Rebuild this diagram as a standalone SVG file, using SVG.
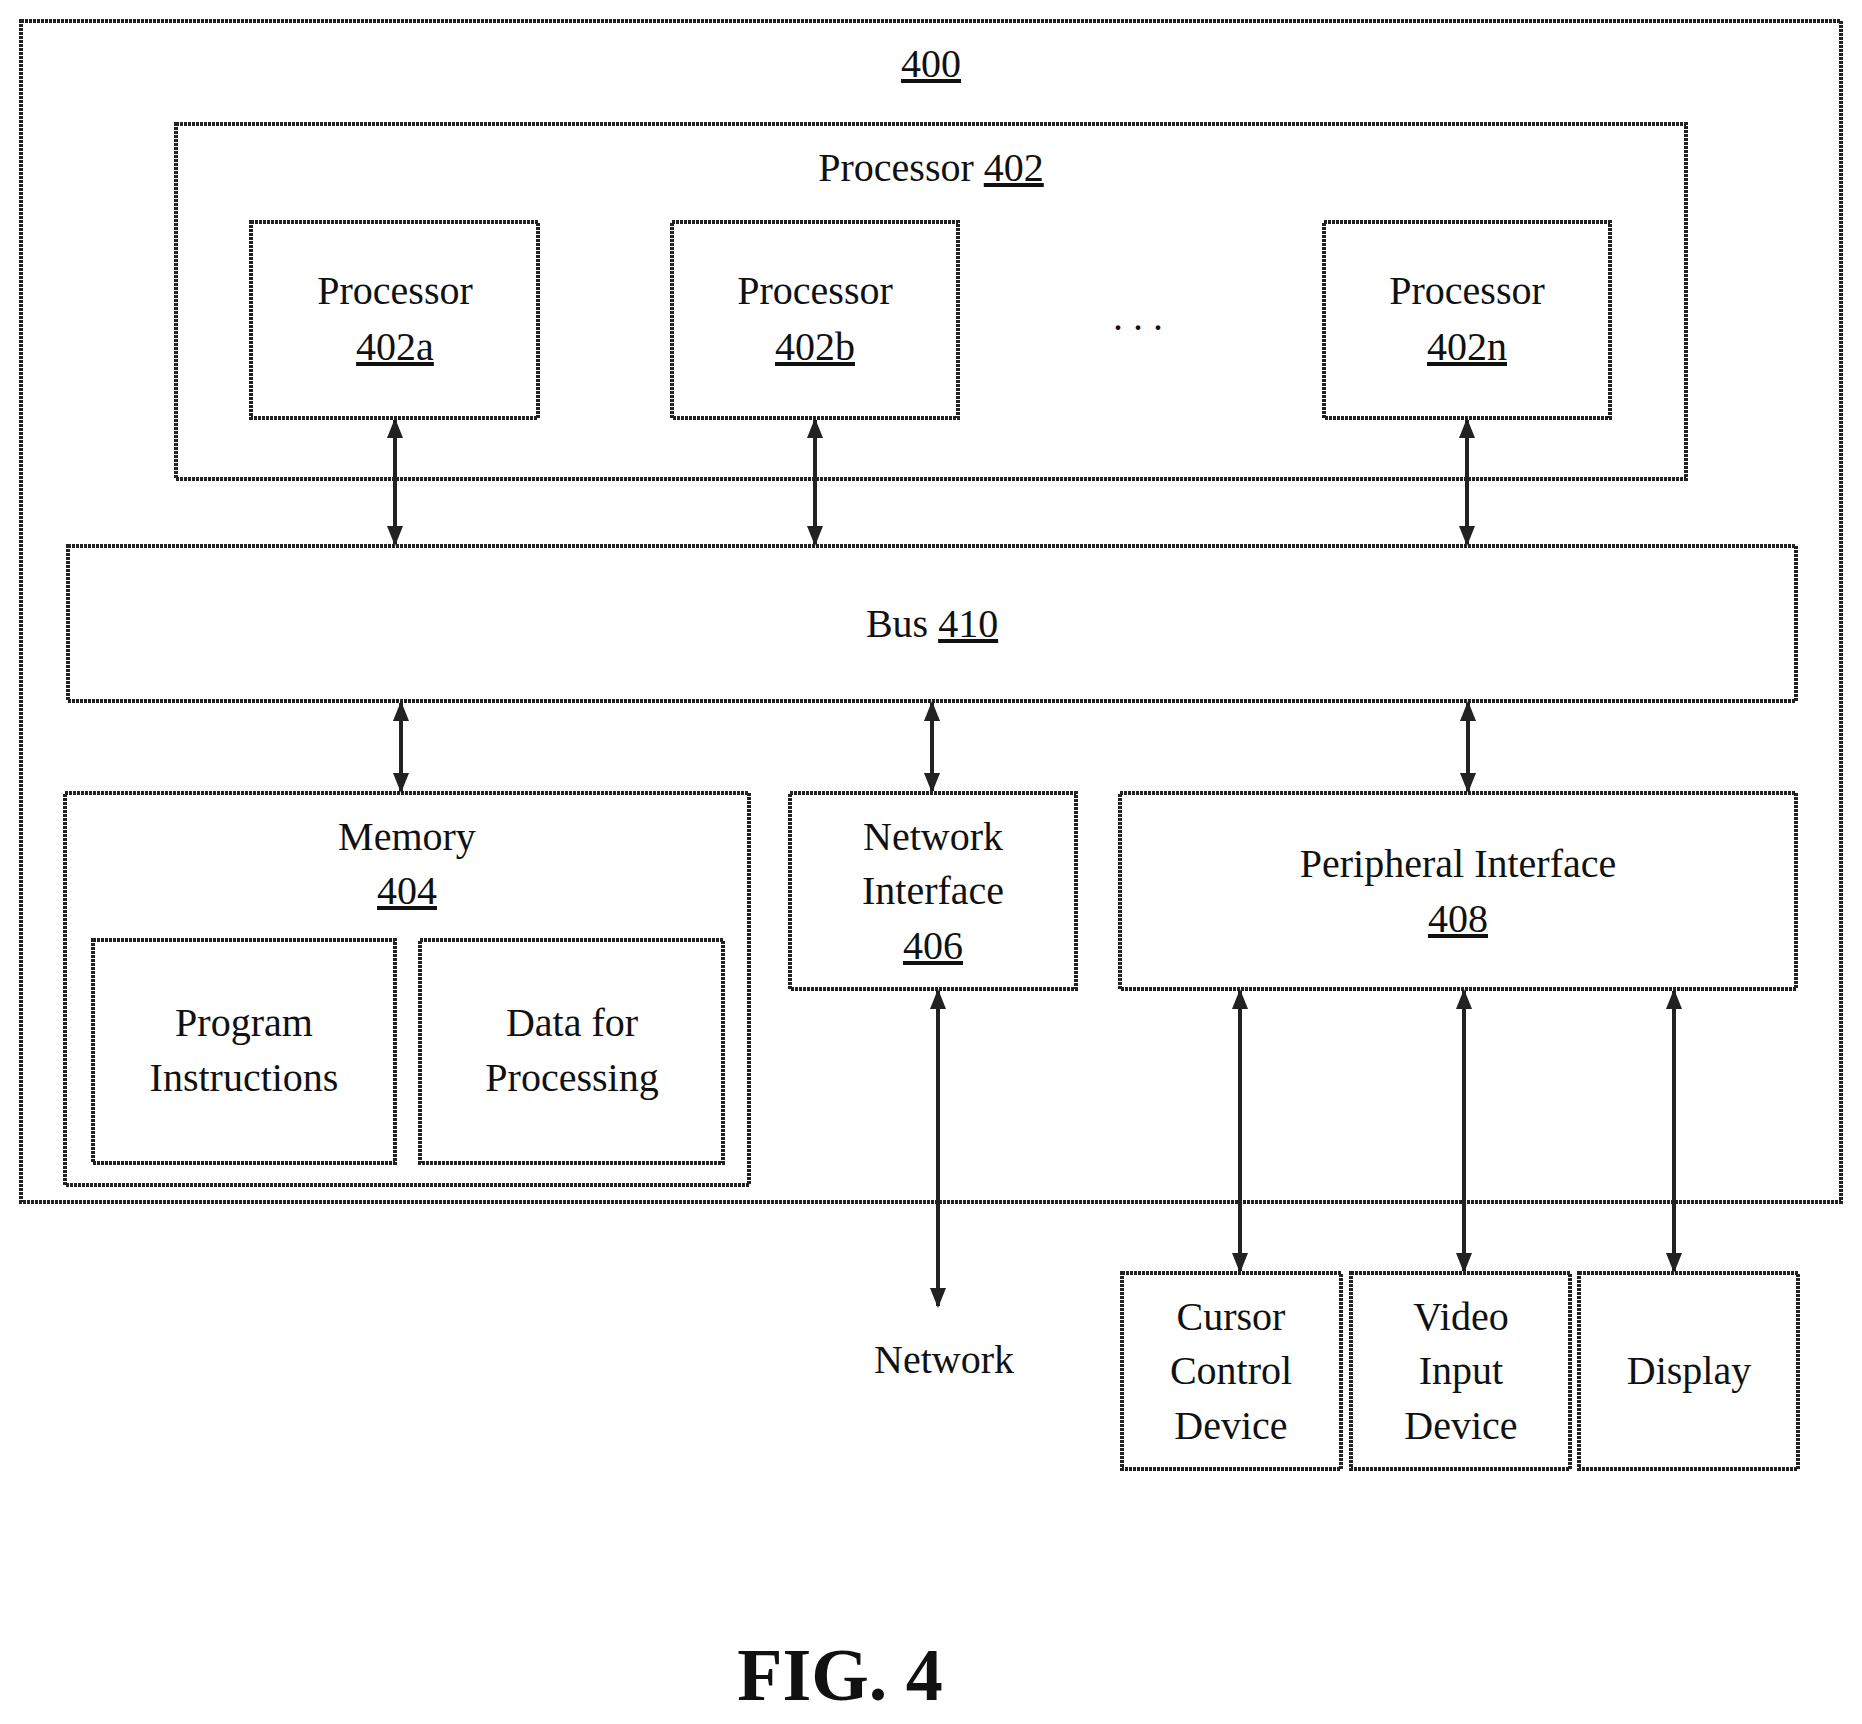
<svg xmlns="http://www.w3.org/2000/svg" width="1862" height="1724" viewBox="0 0 1862 1724">
<style>
rect{fill:none;stroke:#222;stroke-width:4;stroke-dasharray:3 1}
text{font-family:"Liberation Serif",serif;font-size:40px;text-anchor:middle;fill:#111}
.u{text-decoration:underline}
line{stroke:#222;stroke-width:4}
</style>
<defs>
<marker id="a" viewBox="0 0 10 10" refX="9" refY="5" markerWidth="5" markerHeight="5" orient="auto-start-reverse" markerUnits="strokeWidth"><path d="M0,1 L10,5 L0,9 z" fill="#222"/></marker>
</defs>
<rect width="1862" height="1724" style="fill:#fff;stroke:none"/>
<g id="outer"><rect x="21" y="21" width="1820" height="1181"/><text x="931" y="77" class="u">400</text></g>
<g id="proc402"><rect x="176" y="124" width="1510" height="355"/><text x="931" y="181">Processor <tspan class="u">402</tspan></text></g>
<g id="p402a"><rect x="251" y="222" width="287" height="196"/><text x="395" y="304">Processor</text><text x="395" y="360" class="u">402a</text></g>
<g id="p402b"><rect x="672" y="222" width="286" height="196"/><text x="815" y="304">Processor</text><text x="815" y="360" class="u">402b</text></g>
<g id="dots"><text x="1138" y="330">. . .</text></g>
<g id="p402n"><rect x="1324" y="222" width="286" height="196"/><text x="1467" y="304">Processor</text><text x="1467" y="360" class="u">402n</text></g>
<g id="bus"><rect x="68" y="546" width="1728" height="155"/><text x="932" y="637">Bus <tspan class="u">410</tspan></text></g>
<g id="memory"><rect x="65" y="793" width="684" height="392"/><text x="407" y="850">Memory</text><text x="407" y="904" class="u">404</text></g>
<g id="prog"><rect x="93" y="940" width="302" height="223"/><text x="244" y="1036">Program</text><text x="244" y="1091">Instructions</text></g>
<g id="data"><rect x="420" y="940" width="303" height="223"/><text x="572" y="1036">Data for</text><text x="572" y="1091">Processing</text></g>
<g id="netif"><rect x="790" y="793" width="286" height="196"/><text x="933" y="850">Network</text><text x="933" y="904">Interface</text><text x="933" y="959" class="u">406</text></g>
<g id="periph"><rect x="1120" y="793" width="676" height="196"/><text x="1458" y="877">Peripheral Interface</text><text x="1458" y="932" class="u">408</text></g>
<g id="cursor"><rect x="1122" y="1273" width="219" height="196"/><text x="1231" y="1330">Cursor</text><text x="1231" y="1384">Control</text><text x="1231" y="1439">Device</text></g>
<g id="video"><rect x="1351" y="1273" width="219" height="196"/><text x="1461" y="1330">Video</text><text x="1461" y="1384">Input</text><text x="1461" y="1439">Device</text></g>
<g id="display"><rect x="1579" y="1273" width="219" height="196"/><text x="1689" y="1384">Display</text></g>
<g id="network"><text x="944" y="1373">Network</text></g>
<g id="connectors">
<line x1="395" y1="420" x2="395" y2="544" marker-start="url(#a)" marker-end="url(#a)"/>
<line x1="815" y1="420" x2="815" y2="544" marker-start="url(#a)" marker-end="url(#a)"/>
<line x1="1467" y1="420" x2="1467" y2="544" marker-start="url(#a)" marker-end="url(#a)"/>
<line x1="401" y1="703" x2="401" y2="791" marker-start="url(#a)" marker-end="url(#a)"/>
<line x1="932" y1="703" x2="932" y2="791" marker-start="url(#a)" marker-end="url(#a)"/>
<line x1="1468" y1="703" x2="1468" y2="791" marker-start="url(#a)" marker-end="url(#a)"/>
<line x1="938" y1="991" x2="938" y2="1306" marker-start="url(#a)" marker-end="url(#a)"/>
<line x1="1240" y1="991" x2="1240" y2="1271" marker-start="url(#a)" marker-end="url(#a)"/>
<line x1="1464" y1="991" x2="1464" y2="1271" marker-start="url(#a)" marker-end="url(#a)"/>
<line x1="1674" y1="991" x2="1674" y2="1271" marker-start="url(#a)" marker-end="url(#a)"/>
</g>
<g id="caption"><text x="840" y="1700" style="font-size:74px;font-weight:bold">FIG. 4</text></g>
</svg>
